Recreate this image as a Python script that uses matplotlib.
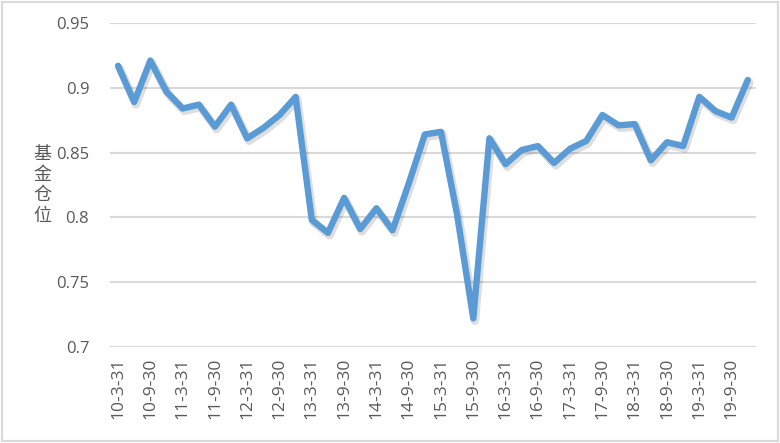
import matplotlib
matplotlib.use("Agg")
import matplotlib.pyplot as plt
import matplotlib.patheffects as pe
from matplotlib.patches import Rectangle

plt.rcParams['font.family'] = ['Open Sans', 'Noto Sans CJK SC', 'DejaVu Sans']

# quarterly dates 10-3-31 ... 19-12-31
quarters = []
for yr in range(10, 20):
    for md in ["3-31", "6-30", "9-30", "12-31"]:
        quarters.append(f"{yr}-{md}")

positions = [0.917, 0.889, 0.921, 0.897, 0.884, 0.887, 0.870, 0.887,
             0.861, 0.869, 0.879, 0.893, 0.798, 0.788, 0.815, 0.791,
             0.807, 0.790, 0.826, 0.864, 0.866, 0.802, 0.722, 0.861,
             0.841, 0.852, 0.855, 0.842, 0.853, 0.859, 0.879, 0.871,
             0.872, 0.844, 0.858, 0.855, 0.893, 0.882, 0.877, 0.906]

y_ticks = [0.7, 0.75, 0.8, 0.85, 0.9, 0.95]
y_ticklabels = ["0.7", "0.75", "0.8", "0.85", "0.9", "0.95"]
y_title = "基金仓位"

W, H = 780, 443
fig = plt.figure(figsize=(W / 100, H / 100), dpi=100)
ax = fig.add_axes([0.141, 0.217, 0.828, 0.731])

x = list(range(len(quarters)))
ax.plot(x, positions, color='#5B9BD5', linewidth=4.6, solid_joinstyle='round',
        solid_capstyle='round', zorder=3,
        path_effects=[pe.SimpleLineShadow(offset=(1.2, -1.8), shadow_color='black', alpha=0.13,
                                          linewidth=6.0),
                      pe.Normal()])

ax.set_xlim(-0.5, len(quarters) - 0.5)
ax.set_ylim(0.7, 0.95)
ax.set_yticks(y_ticks)
ax.set_yticklabels(y_ticklabels)
ax.set_xticks(x[::2])
ax.set_xticklabels(quarters[::2], rotation=90)

ax.grid(axis='y', color='#D9D9D9', linewidth=1.5)
ax.set_axisbelow(True)
for s in ax.spines.values():
    s.set_visible(False)
ax.tick_params(axis='both', length=0, colors='#595959', labelsize=12)
ax.tick_params(axis='x', labelsize=12.5)
ax.tick_params(axis='y', pad=15)
ax.tick_params(axis='x', pad=8)

# vertical stacked axis title, one upright character per line
fig.text(42 / W, 1 - 185 / H, "\n".join(y_title), fontsize=13, color='#595959',
         ha='center', va='center', linespacing=1.2,
         family=['Noto Sans CJK SC', 'DejaVu Sans'])

fig.patches.append(Rectangle((0.002, 0.004), 0.995, 0.992, transform=fig.transFigure,
                             fill=False, edgecolor='#D9D9D9', linewidth=1.5))

fig.savefig("out.png", dpi=100)
